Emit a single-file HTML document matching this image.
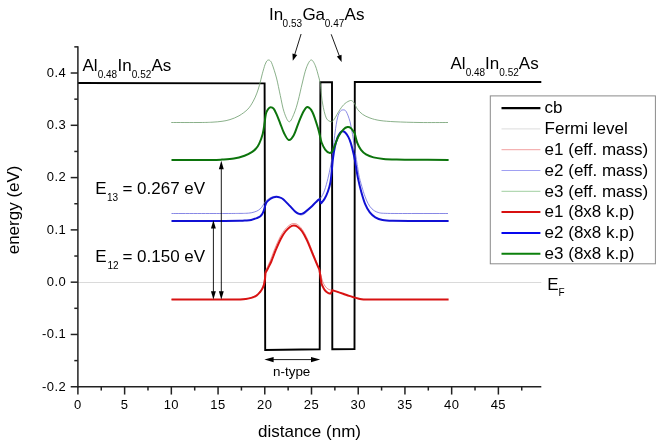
<!DOCTYPE html>
<html><head><meta charset="utf-8"><title>Conduction band profile</title>
<style>
html,body{margin:0;padding:0;background:#fff;}
body{width:664px;height:447px;overflow:hidden;}
svg{display:block;font-family:"Liberation Sans",sans-serif;}
text{fill:#000;}
</style></head><body>
<svg width="664" height="447" viewBox="0 0 664 447">
<rect x="0" y="0" width="664" height="447" fill="#fff"/>

<line x1="78" y1="282.50" x2="541.3" y2="282.50" stroke="#dadada" stroke-width="1"/>
<g fill="none" stroke-linejoin="round" stroke-linecap="butt">
<path d="M78.00 83.00 L264.60 83.40 L265.20 350.00 L319.70 349.30 L320.40 82.20 L332.00 82.10 L332.30 349.20 L354.50 349.00 L354.80 82.00 L541.30 82.00" stroke="#000" stroke-width="1.9" stroke-linejoin="miter"/>
<path d="M171.25 122.50 C176.04 122.50 193.21 122.55 200.00 122.50 C206.79 122.45 208.33 122.40 212.00 122.20 C215.67 122.00 219.00 121.73 222.00 121.30 C225.00 120.87 227.17 120.52 230.00 119.60 C232.83 118.68 236.02 117.55 239.00 115.80 C241.98 114.05 245.52 111.55 247.90 109.10 C250.28 106.65 251.80 103.77 253.30 101.10 C254.80 98.43 255.85 95.85 256.90 93.10 C257.95 90.35 258.70 87.82 259.60 84.60 C260.50 81.38 261.42 77.08 262.30 73.80 C263.18 70.52 264.47 66.38 264.90 64.90 C265.22 64.25 266.18 61.82 266.80 61.00 C267.42 60.18 268.00 60.00 268.60 60.00 C269.20 60.00 269.80 60.28 270.40 61.00 C271.00 61.72 271.18 61.47 272.20 64.30 C273.22 67.13 275.15 72.80 276.50 78.00 C277.85 83.20 279.05 89.88 280.30 95.50 C281.55 101.12 282.52 107.38 284.00 111.75 C285.48 116.12 287.48 121.54 289.20 121.75 C290.92 121.96 292.80 116.54 294.30 113.00 C295.80 109.46 296.87 105.50 298.20 100.50 C299.53 95.50 300.95 88.42 302.30 83.00 C303.65 77.58 304.85 71.83 306.30 68.00 C307.75 64.17 309.51 60.42 311.00 60.00 C312.49 59.58 313.92 62.50 315.25 65.50 C316.58 68.50 318.16 75.00 319.00 78.00 C319.84 81.00 320.08 82.58 320.30 83.50 C320.67 86.75 321.51 97.25 322.50 103.00 C323.49 108.75 324.83 114.88 326.25 118.00 C327.67 121.12 329.99 121.22 331.00 121.75 C332.01 122.28 332.08 121.29 332.30 121.20 C332.63 120.87 333.02 121.15 334.30 119.20 C335.58 117.25 338.22 112.12 340.00 109.50 C341.78 106.88 343.25 105.00 345.00 103.50 C346.75 102.00 349.13 100.78 350.50 100.50 C351.87 100.22 352.50 101.25 353.20 101.80 C353.90 102.35 354.45 103.47 354.70 103.80 C355.17 104.71 356.20 107.51 357.50 109.25 C358.80 110.99 360.42 112.79 362.50 114.25 C364.58 115.71 367.08 116.96 370.00 118.00 C372.92 119.04 375.83 119.88 380.00 120.50 C384.17 121.12 388.33 121.42 395.00 121.75 C401.67 122.08 411.17 122.38 420.00 122.50 C428.83 122.62 443.33 122.50 448.00 122.50" stroke="#6c9c6c" stroke-width="0.8"/>
<path d="M171.50 213.50 C180.42 213.50 213.58 213.52 225.00 213.50 C236.42 213.48 236.57 213.43 240.00 213.40 C243.43 213.37 243.73 213.40 245.60 213.30 C247.47 213.20 249.33 213.17 251.20 212.80 C253.07 212.43 255.32 211.75 256.80 211.10 C258.28 210.45 259.17 209.70 260.10 208.90 C261.03 208.10 261.75 207.18 262.40 206.30 C263.05 205.42 263.53 204.40 264.00 203.60 C264.47 202.80 265.00 201.85 265.20 201.50 C265.58 201.18 266.72 200.18 267.50 199.60 C268.28 199.02 268.98 198.48 269.90 198.00 C270.82 197.52 271.95 196.97 273.00 196.70 C274.05 196.43 275.12 196.32 276.20 196.40 C277.28 196.48 278.33 196.73 279.50 197.20 C280.67 197.67 281.48 197.70 283.20 199.20 C284.92 200.70 287.87 204.10 289.80 206.20 C291.73 208.30 293.35 210.45 294.80 211.80 C296.25 213.15 297.43 213.77 298.50 214.30 C299.57 214.83 300.37 215.00 301.20 215.00 C302.03 215.00 302.70 214.73 303.50 214.30 C304.30 213.87 304.55 213.72 306.00 212.40 C307.45 211.08 310.35 208.27 312.20 206.40 C314.05 204.53 315.88 202.48 317.10 201.20 C318.32 199.92 319.10 199.12 319.50 198.70 C319.80 198.45 320.45 198.62 321.30 197.20 C322.15 195.78 323.50 193.30 324.60 190.20 C325.70 187.10 326.93 182.47 327.90 178.60 C328.87 174.73 329.68 170.60 330.40 167.00 C331.12 163.40 331.90 158.67 332.20 157.00 C332.67 152.98 334.12 139.42 335.00 132.90 C335.88 126.38 336.67 121.44 337.50 117.90 C338.33 114.36 339.08 112.98 340.00 111.65 C340.92 110.32 341.96 109.90 343.00 109.90 C344.04 109.90 345.08 109.69 346.25 111.65 C347.42 113.61 348.96 117.86 350.00 121.65 C351.04 125.44 351.70 129.84 352.50 134.40 C353.30 138.96 354.42 146.57 354.80 149.00 C355.25 151.90 356.73 161.67 357.50 166.40 C358.27 171.13 358.53 173.57 359.40 177.40 C360.27 181.23 361.77 186.23 362.70 189.40 C363.63 192.57 364.12 194.07 365.00 196.40 C365.88 198.73 366.83 201.32 368.00 203.40 C369.17 205.48 370.33 207.40 372.00 208.90 C373.67 210.40 375.42 211.65 378.00 212.40 C380.58 213.15 380.50 213.22 387.50 213.40 C394.50 213.58 409.92 213.48 420.00 213.50 C430.08 213.52 443.33 213.50 448.00 213.50" stroke="#6a6ade" stroke-width="0.8"/>
<path d="M171.50 299.50 C179.58 299.50 209.42 299.51 220.00 299.50 C230.58 299.49 231.67 299.47 235.00 299.45 C238.33 299.43 238.23 299.44 240.00 299.35 C241.77 299.26 243.73 299.17 245.60 298.90 C247.47 298.62 249.33 298.35 251.20 297.70 C253.07 297.05 255.32 296.08 256.80 295.00 C258.28 293.92 259.20 292.47 260.10 291.20 C261.00 289.93 261.58 288.77 262.20 287.40 C262.82 286.03 263.37 284.73 263.80 283.00 C264.23 281.27 264.55 278.92 264.80 277.00 C265.05 275.08 265.22 272.42 265.30 271.50 C265.68 270.65 266.68 268.45 267.60 266.40 C268.52 264.35 269.57 262.23 270.80 259.20 C272.03 256.17 273.43 251.93 275.00 248.20 C276.57 244.47 278.50 239.97 280.20 236.80 C281.90 233.63 283.57 231.20 285.20 229.20 C286.83 227.20 288.57 225.75 290.00 224.80 C291.43 223.85 292.50 223.53 293.75 223.50 C295.00 223.47 296.09 223.62 297.50 224.60 C298.91 225.58 300.55 227.00 302.20 229.40 C303.85 231.80 305.70 235.30 307.40 239.00 C309.10 242.70 310.75 247.43 312.40 251.60 C314.05 255.77 316.15 261.10 317.30 264.00 C318.45 266.90 318.97 268.17 319.30 269.00 C319.52 269.83 320.07 272.00 320.60 274.00 C321.13 276.00 321.77 279.00 322.50 281.00 C323.23 283.00 324.08 284.67 325.00 286.00 C325.92 287.33 326.80 288.23 328.00 289.00 C329.20 289.77 330.72 290.15 332.20 290.60 C333.68 291.05 335.08 291.18 336.90 291.70 C338.72 292.22 341.05 293.00 343.10 293.70 C345.15 294.40 347.37 295.28 349.20 295.90 C351.03 296.52 352.63 296.97 354.10 297.40 C355.57 297.83 356.77 298.20 358.00 298.50 C359.23 298.80 360.17 299.03 361.50 299.20 C362.83 299.37 364.25 299.45 366.00 299.50 C367.75 299.55 358.33 299.50 372.00 299.50 C385.67 299.50 435.33 299.50 448.00 299.50" stroke="#e87474" stroke-width="0.8"/>
<path d="M171.50 299.55 C179.58 299.55 209.42 299.56 220.00 299.55 C230.58 299.54 231.67 299.52 235.00 299.50 C238.33 299.48 238.23 299.48 240.00 299.40 C241.77 299.32 243.73 299.25 245.60 299.00 C247.47 298.75 249.33 298.52 251.20 297.90 C253.07 297.28 255.32 296.28 256.80 295.30 C258.28 294.32 259.17 293.12 260.10 292.00 C261.03 290.88 261.75 289.82 262.40 288.60 C263.05 287.38 263.57 286.30 264.00 284.70 C264.43 283.10 264.75 280.95 265.00 279.00 C265.25 277.05 265.42 274.00 265.50 273.00 C265.92 272.20 267.03 270.12 268.00 268.20 C268.97 266.28 270.03 264.47 271.30 261.50 C272.57 258.53 274.05 254.12 275.60 250.40 C277.15 246.68 278.97 242.35 280.60 239.20 C282.23 236.05 283.83 233.53 285.40 231.50 C286.97 229.47 288.61 227.98 290.00 227.00 C291.39 226.02 292.50 225.63 293.75 225.60 C295.00 225.57 296.12 225.85 297.50 226.80 C298.88 227.75 300.42 229.03 302.00 231.30 C303.58 233.57 305.33 236.88 307.00 240.40 C308.67 243.92 310.33 248.40 312.00 252.40 C313.67 256.40 315.78 261.57 317.00 264.40 C318.22 267.23 318.92 268.57 319.30 269.40 C319.47 270.40 319.93 273.07 320.30 275.40 C320.67 277.73 321.05 281.47 321.50 283.40 C321.95 285.33 322.48 285.93 323.00 287.00 C323.52 288.07 323.93 288.93 324.60 289.80 C325.27 290.67 326.18 291.58 327.00 292.20 C327.82 292.82 328.83 293.37 329.50 293.50 C330.17 293.63 330.55 293.55 331.00 293.00 C331.45 292.45 332.00 290.67 332.20 290.20 C332.98 290.43 335.08 291.02 336.90 291.60 C338.72 292.18 341.05 292.98 343.10 293.70 C345.15 294.42 347.37 295.28 349.20 295.90 C351.03 296.52 352.63 296.97 354.10 297.40 C355.57 297.83 356.77 298.20 358.00 298.50 C359.23 298.80 360.17 299.03 361.50 299.20 C362.83 299.37 364.25 299.44 366.00 299.50 C367.75 299.56 358.23 299.54 372.00 299.55 C385.77 299.56 435.83 299.55 448.60 299.55" stroke="#d81212" stroke-width="2"/>
<path d="M171.50 220.90 C180.42 220.90 213.58 220.92 225.00 220.90 C236.42 220.88 236.57 220.87 240.00 220.80 C243.43 220.73 243.73 220.65 245.60 220.50 C247.47 220.35 249.33 220.30 251.20 219.90 C253.07 219.50 255.32 218.67 256.80 218.10 C258.28 217.53 259.17 217.22 260.10 216.50 C261.03 215.78 261.75 214.90 262.40 213.80 C263.05 212.70 263.53 211.27 264.00 209.90 C264.47 208.53 265.00 206.32 265.20 205.60 C265.47 205.00 265.97 203.10 266.80 202.00 C267.63 200.90 269.08 199.77 270.20 199.00 C271.32 198.23 272.45 197.77 273.50 197.40 C274.55 197.03 275.50 196.80 276.50 196.80 C277.50 196.80 278.38 197.00 279.50 197.40 C280.62 197.80 281.48 197.78 283.20 199.20 C284.92 200.62 287.87 203.88 289.80 205.90 C291.73 207.92 293.43 210.05 294.80 211.30 C296.17 212.55 297.03 212.93 298.00 213.40 C298.97 213.87 299.77 214.10 300.60 214.10 C301.43 214.10 302.20 213.80 303.00 213.40 C303.80 213.00 303.87 212.95 305.40 211.70 C306.93 210.45 310.25 207.70 312.20 205.90 C314.15 204.10 315.92 202.02 317.10 200.90 C318.28 199.78 318.93 199.48 319.30 199.20 C319.48 199.58 320.07 200.83 320.40 201.50 C320.73 202.17 321.15 202.92 321.30 203.20 C321.85 202.47 323.50 200.75 324.60 198.80 C325.70 196.85 326.93 194.23 327.90 191.50 C328.87 188.77 329.75 185.90 330.40 182.40 C331.05 178.90 331.57 172.48 331.80 170.50 C332.00 168.48 332.47 162.42 333.00 158.40 C333.53 154.38 334.22 149.93 335.00 146.40 C335.78 142.87 336.82 139.50 337.70 137.20 C338.58 134.90 339.50 133.58 340.30 132.60 C341.10 131.62 341.68 131.32 342.50 131.30 C343.32 131.28 344.23 131.57 345.20 132.50 C346.17 133.43 347.35 135.08 348.30 136.90 C349.25 138.72 350.03 140.65 350.90 143.40 C351.77 146.15 352.82 150.55 353.50 153.40 C354.18 156.25 354.75 159.32 355.00 160.50 C355.50 163.48 356.95 173.17 358.00 178.40 C359.05 183.63 360.08 187.57 361.30 191.90 C362.52 196.23 363.88 200.98 365.30 204.40 C366.72 207.82 368.13 210.25 369.80 212.40 C371.47 214.55 373.18 216.03 375.30 217.30 C377.42 218.57 379.63 219.42 382.50 220.00 C385.37 220.58 386.25 220.65 392.50 220.80 C398.75 220.95 410.65 220.88 420.00 220.90 C429.35 220.92 443.83 220.90 448.60 220.90" stroke="#1010d4" stroke-width="2"/>
<path d="M171.50 159.90 C177.92 159.90 201.58 159.95 210.00 159.90 C218.42 159.85 218.02 159.82 222.00 159.60 C225.98 159.38 230.15 159.25 233.90 158.60 C237.65 157.95 241.52 156.78 244.50 155.70 C247.48 154.62 249.88 153.30 251.80 152.10 C253.72 150.90 254.78 149.87 256.00 148.50 C257.22 147.13 257.98 146.33 259.10 143.90 C260.22 141.47 261.78 137.38 262.70 133.90 C263.62 130.42 264.18 125.65 264.60 123.00 C265.02 120.35 265.10 118.83 265.20 118.00 C265.38 117.08 265.75 114.07 266.30 112.50 C266.85 110.93 267.77 109.47 268.50 108.60 C269.23 107.73 269.85 107.30 270.70 107.30 C271.55 107.30 272.63 107.47 273.60 108.60 C274.57 109.73 275.43 111.73 276.50 114.10 C277.57 116.47 278.75 119.65 280.00 122.80 C281.25 125.95 282.54 130.13 284.00 133.00 C285.46 135.87 287.12 139.62 288.75 140.00 C290.38 140.38 292.08 138.25 293.75 135.30 C295.42 132.35 297.08 126.33 298.75 122.30 C300.42 118.27 302.29 113.65 303.75 111.10 C305.21 108.55 306.04 106.82 307.50 107.00 C308.96 107.18 310.78 108.78 312.50 112.20 C314.22 115.62 316.52 123.37 317.80 127.50 C319.08 131.63 319.80 135.42 320.20 137.00 C320.43 137.92 320.77 140.40 321.60 142.50 C322.43 144.60 323.88 147.87 325.20 149.60 C326.52 151.33 328.33 152.58 329.50 152.90 C330.67 153.22 331.75 151.73 332.20 151.50 C332.45 150.95 332.65 150.72 333.70 148.20 C334.75 145.68 336.87 139.53 338.50 136.40 C340.13 133.27 342.00 130.95 343.50 129.40 C345.00 127.85 346.25 127.30 347.50 127.10 C348.75 126.90 349.80 127.18 351.00 128.20 C352.20 129.22 354.08 132.37 354.70 133.20 C355.13 134.82 356.25 140.12 357.30 142.90 C358.35 145.68 359.55 147.98 361.00 149.90 C362.45 151.82 363.92 153.15 366.00 154.40 C368.08 155.65 370.58 156.65 373.50 157.40 C376.42 158.15 379.75 158.53 383.50 158.90 C387.25 159.27 391.83 159.45 396.00 159.60 C400.17 159.75 399.73 159.75 408.50 159.80 C417.27 159.85 441.92 159.88 448.60 159.90" stroke="#0c740c" stroke-width="2"/>
</g>
<g stroke="#222" stroke-width="1.5" fill="none">
<line x1="77.90" y1="46.3" x2="77.90" y2="387.50"/>
<line x1="77.15" y1="386.75" x2="541.3" y2="386.75"/>
<line x1="77.90" y1="386.75" x2="77.90" y2="394.55"/>
<line x1="101.26" y1="386.75" x2="101.26" y2="390.55"/>
<line x1="124.62" y1="386.75" x2="124.62" y2="394.55"/>
<line x1="147.98" y1="386.75" x2="147.98" y2="390.55"/>
<line x1="171.34" y1="386.75" x2="171.34" y2="394.55"/>
<line x1="194.70" y1="386.75" x2="194.70" y2="390.55"/>
<line x1="218.06" y1="386.75" x2="218.06" y2="394.55"/>
<line x1="241.42" y1="386.75" x2="241.42" y2="390.55"/>
<line x1="264.78" y1="386.75" x2="264.78" y2="394.55"/>
<line x1="288.14" y1="386.75" x2="288.14" y2="390.55"/>
<line x1="311.50" y1="386.75" x2="311.50" y2="394.55"/>
<line x1="334.86" y1="386.75" x2="334.86" y2="390.55"/>
<line x1="358.22" y1="386.75" x2="358.22" y2="394.55"/>
<line x1="381.58" y1="386.75" x2="381.58" y2="390.55"/>
<line x1="404.94" y1="386.75" x2="404.94" y2="394.55"/>
<line x1="428.30" y1="386.75" x2="428.30" y2="390.55"/>
<line x1="451.66" y1="386.75" x2="451.66" y2="394.55"/>
<line x1="475.02" y1="386.75" x2="475.02" y2="390.55"/>
<line x1="498.38" y1="386.75" x2="498.38" y2="394.55"/>
<line x1="521.74" y1="386.75" x2="521.74" y2="390.55"/>
<line x1="70.70" y1="386.75" x2="77.90" y2="386.75"/>
<line x1="74.30" y1="360.61" x2="77.90" y2="360.61"/>
<line x1="70.70" y1="334.46" x2="77.90" y2="334.46"/>
<line x1="74.30" y1="308.31" x2="77.90" y2="308.31"/>
<line x1="70.70" y1="282.17" x2="77.90" y2="282.17"/>
<line x1="74.30" y1="256.03" x2="77.90" y2="256.03"/>
<line x1="70.70" y1="229.88" x2="77.90" y2="229.88"/>
<line x1="74.30" y1="203.74" x2="77.90" y2="203.74"/>
<line x1="70.70" y1="177.59" x2="77.90" y2="177.59"/>
<line x1="74.30" y1="151.45" x2="77.90" y2="151.45"/>
<line x1="70.70" y1="125.30" x2="77.90" y2="125.30"/>
<line x1="74.30" y1="99.16" x2="77.90" y2="99.16"/>
<line x1="70.70" y1="73.01" x2="77.90" y2="73.01"/>
<line x1="74.30" y1="46.87" x2="77.90" y2="46.87"/>
</g>
<g font-size="13" text-anchor="middle" letter-spacing="0.45">
<text x="77.90" y="409.10">0</text>
<text x="124.62" y="409.10">5</text>
<text x="171.34" y="409.10">10</text>
<text x="218.06" y="409.10">15</text>
<text x="264.78" y="409.10">20</text>
<text x="311.50" y="409.10">25</text>
<text x="358.22" y="409.10">30</text>
<text x="404.94" y="409.10">35</text>
<text x="451.66" y="409.10">40</text>
<text x="498.38" y="409.10">45</text>
</g>
<g font-size="13" text-anchor="end" letter-spacing="0.45">
<text x="66.20" y="390.55">-0.2</text>
<text x="66.20" y="338.26">-0.1</text>
<text x="66.20" y="285.97">0.0</text>
<text x="66.20" y="233.68">0.1</text>
<text x="66.20" y="181.39">0.2</text>
<text x="66.20" y="129.10">0.3</text>
<text x="66.20" y="76.81">0.4</text>
</g>
<rect x="490.3" y="95.9" width="165.1" height="167.9" fill="#fff" stroke="#8a8a8a" stroke-width="1"/>
<line x1="501.5" y1="108.10" x2="540.4" y2="108.10" stroke="#000" stroke-width="2.2"/><text x="544.6" y="113.30" font-size="17">cb</text>
<line x1="501.5" y1="128.90" x2="540.4" y2="128.90" stroke="#dcdcdc" stroke-width="1"/><text x="544.6" y="134.10" font-size="17">Fermi level</text>
<line x1="501.5" y1="149.70" x2="540.4" y2="149.70" stroke="#f2a0a0" stroke-width="1"/><text x="544.6" y="154.90" font-size="17">e1 (eff. mass)</text>
<line x1="501.5" y1="170.50" x2="540.4" y2="170.50" stroke="#a0a0f2" stroke-width="1"/><text x="544.6" y="175.70" font-size="17">e2 (eff. mass)</text>
<line x1="501.5" y1="191.30" x2="540.4" y2="191.30" stroke="#a0cfa0" stroke-width="1"/><text x="544.6" y="196.50" font-size="17">e3 (eff. mass)</text>
<line x1="501.5" y1="212.10" x2="540.4" y2="212.10" stroke="#d81010" stroke-width="2.0"/><text x="544.6" y="217.30" font-size="17">e1 (8x8 k.p)</text>
<line x1="501.5" y1="232.90" x2="540.4" y2="232.90" stroke="#0808ee" stroke-width="2.0"/><text x="544.6" y="238.10" font-size="17">e2 (8x8 k.p)</text>
<line x1="501.5" y1="253.70" x2="540.4" y2="253.70" stroke="#0c800c" stroke-width="2.0"/><text x="544.6" y="258.90" font-size="17">e3 (8x8 k.p)</text>
<text x="269.10" y="20.20" font-size="17">In</text><text x="282.60" y="27.30" font-size="10.0">0.53</text><text x="302.40" y="20.20" font-size="17">Ga</text><text x="324.80" y="27.30" font-size="10.0">0.47</text><text x="344.60" y="20.20" font-size="17">As</text>
<text x="82.50" y="71.10" font-size="17">Al</text><text x="97.70" y="77.70" font-size="10.0">0.48</text><text x="117.50" y="71.10" font-size="17">In</text><text x="131.80" y="77.70" font-size="10.0">0.52</text><text x="151.40" y="71.10" font-size="17">As</text>
<text x="450.50" y="68.70" font-size="17">Al</text><text x="465.70" y="76.10" font-size="10.0">0.48</text><text x="485.00" y="68.70" font-size="17">In</text><text x="499.30" y="76.10" font-size="10.0">0.52</text><text x="518.80" y="68.70" font-size="17">As</text>
<text x="95.20" y="193.70" font-size="17">E</text><text x="107.00" y="200.60" font-size="10.0">13</text><text x="122.40" y="193.70" font-size="17">= 0.267 eV</text>
<text x="95.20" y="261.60" font-size="17">E</text><text x="107.40" y="268.60" font-size="10.0">12</text><text x="122.40" y="261.60" font-size="17">= 0.150 eV</text>
<text x="547.20" y="289.80" font-size="17">E</text><text x="558.50" y="295.60" font-size="10.0">F</text>
<text x="291.7" y="376.3" font-size="13.4" text-anchor="middle">n-type</text>
<text x="258" y="437.3" font-size="17">distance (nm)</text>
<text transform="translate(18.9,254.3) rotate(-90)" font-size="17">energy (eV)</text>
<line x1="221.30" y1="292.88" x2="221.30" y2="167.52" stroke="#000" stroke-width="0.9"/><polygon points="221.30,160.80 223.75,169.20 218.85,169.20" fill="#000"/><polygon points="221.30,299.60 223.75,291.20 218.85,291.20" fill="#000"/><line x1="213.40" y1="292.88" x2="213.40" y2="226.92" stroke="#000" stroke-width="0.9"/><polygon points="213.40,220.20 215.85,228.60 210.95,228.60" fill="#000"/><polygon points="213.40,299.60 215.85,291.20 210.95,291.20" fill="#000"/><line x1="271.76" y1="359.60" x2="312.84" y2="359.60" stroke="#000" stroke-width="0.9"/><polygon points="320.20,359.60 311.00,362.30 311.00,356.90" fill="#000"/><polygon points="264.40,359.60 273.60,362.30 273.60,356.90" fill="#000"/><line x1="301.10" y1="34.00" x2="294.43" y2="55.53" stroke="#000" stroke-width="0.9"/><polygon points="292.80,60.80 292.45,53.47 297.23,54.95" fill="#000"/><line x1="331.20" y1="34.30" x2="339.66" y2="56.83" stroke="#000" stroke-width="0.9"/><polygon points="341.60,62.00 336.83,56.42 341.52,54.66" fill="#000"/>
</svg>
</body></html>
